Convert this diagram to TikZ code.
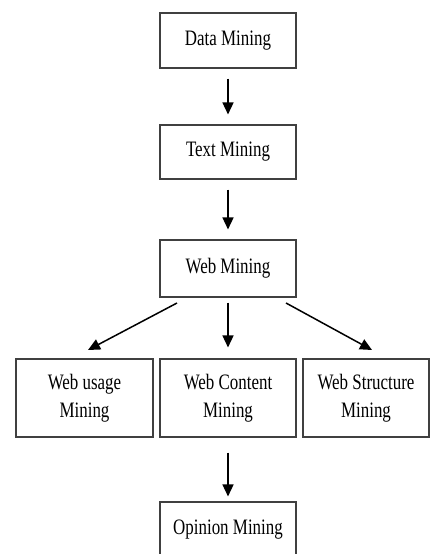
\documentclass[tikz,border=0pt]{standalone}
\usepackage{fontspec}
\setmainfont{Liberation Serif}
\usetikzlibrary{arrows.meta}
\newcommand{\tall}[1]{\scalebox{1}[1.3]{#1}}
\newcommand{\twolines}[2]{\tall{\begin{tabular}{@{}c@{}}#1\\#2\end{tabular}}}

\begin{document}
\begin{tikzpicture}[x=1bp, y=-1bp,
		box/.style={draw=black!75, line width=1.1bp, minimum width=136bp, minimum height=55bp, inner sep=0pt, font=\fontsize{17}{21.5}\selectfont},
		arr/.style={line width=1.5bp, -{Triangle[length=12bp,width=11bp]}}]
		%%%%% START %%%%%
		
		\useasboundingbox (0, 0) rectangle (430, 554);
		
		\node[box] (data) at (228, 40.5) {\tall{Data Mining}};
		\node[box, minimum height=54bp] (text) at (228, 152) {\tall{Text Mining}};
		\node[box, minimum height=57bp] (web) at (228, 268.5) {\tall{Web Mining}};
		
		\node[box, minimum width=137bp, minimum height=78bp] (usage) at (84.5, 398) {\twolines{Web usage}{Mining}};
		\node[box, minimum height=78bp] (content) at (228, 398) {\twolines{Web Content}{Mining}};
		\node[box, minimum width=126bp, minimum height=78bp] (structure) at (366, 398) {\twolines{Web Structure}{Mining}};
		
		\node[box] (opinion) at (228, 529.5) {\tall{Opinion Mining}};
		
		\draw[arr, shorten <=10bp, shorten >=10bp] (data) -- (text);
		\draw[arr, shorten <=10bp, shorten >=10bp] (text) -- (web);
		\draw[arr, shorten <=5bp, shorten >=11bp] (web) -- (content);
		\draw[arr, shorten <=15bp, shorten >=5bp] (content) -- (opinion);
		
		\coordinate (usagefrom) at (177, 303);
		\coordinate (usageto) at (88, 350);
		\coordinate (structfrom) at (286, 303);
		\coordinate (structto) at (372, 350);
		\draw[arr] (usagefrom) -- (usageto);
		\draw[arr] (structfrom) -- (structto);
		
		%%%%% END %%%%%
	\end{tikzpicture}
\end{document}
